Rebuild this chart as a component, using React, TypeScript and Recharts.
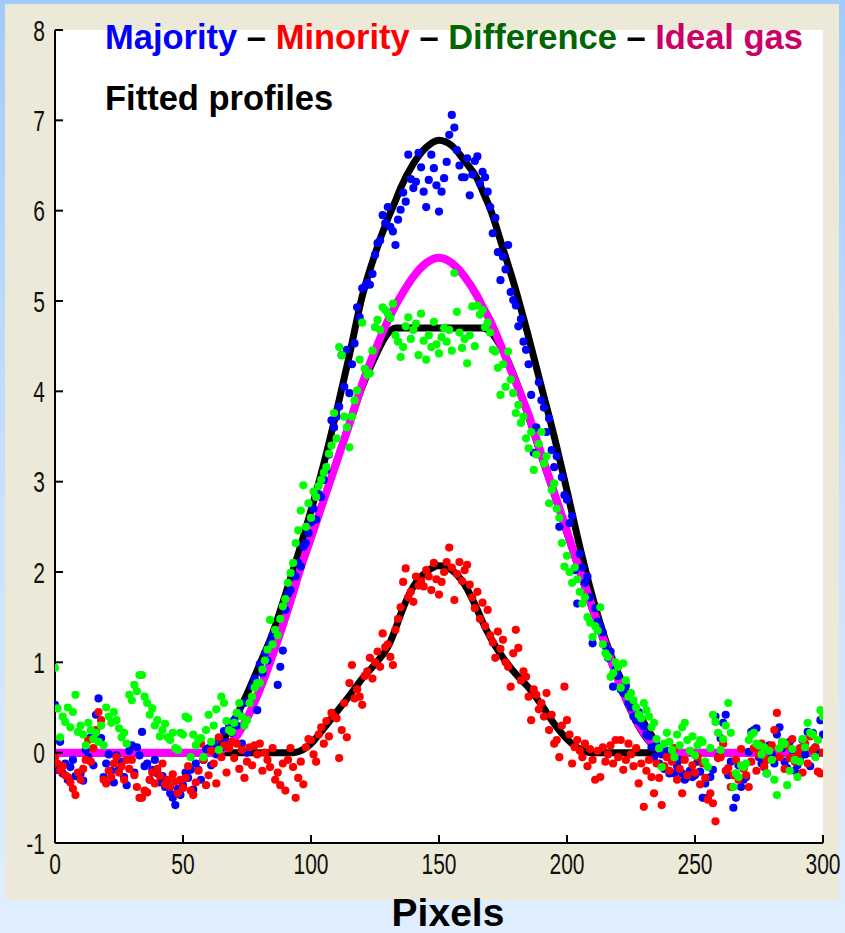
import { ComposedChart, Line, Scatter, XAxis, YAxis } from "recharts";

// One sample per pixel column, x = 0..300
const majority = [
  0.53, -0.19, 0.12, -0.23, -0.12, -0.3, -0.16, -0.08, -0.26, -0.23,
  -0.23, -0.31, 0.03, -0.05, 0.17, -0.14, 0.42, 0.6, 0.16, -0.27,
  -0.12, -0.02, -0.2, -0.33, -0.03, -0.19, -0.1, -0.27, -0.36, 0.02,
  0.08, -0.22, 0.06, -0.03, 0.23, -0.15, -0.12, -0.3, -0.19, -0.08,
  -0.23, -0.33, -0.26, -0.38, -0.31, -0.45, -0.5, -0.58, -0.4, -0.47,
  -0.36, -0.22, -0.28, -0.19, -0.41, -0.12, -0.19, -0.3, -0.08, 0.04,
  0.05, -0.14, 0.09, -0.02, 0.16, 0.06, 0.24, 0.12, 0.31, 0.22,
  0.36, 0.3, 0.45, 0.1, 0.55, 0.0, 0.58, 0.73, 0.82, 0.47,
  0.98, 0.88, 1.1, 1.02, 1.22, 1.3, 1.35, 0.75, 0.95, 1.13,
  1.58, 1.76, 1.8, 1.98, 1.95, 2.1, 2.06, 2.28, 2.32, 2.43,
  2.55, 2.7, 2.58, 2.86, 2.83, 3.02, 3.13, 3.3, 3.68, 3.6,
  3.72, 3.83, 4.4, 4.05, 4.46, 3.98, 4.3, 4.53, 4.93, 4.82,
  5.14, 5.16, 5.2, 5.18, 5.3, 5.51, 5.64, 5.67, 5.95, 5.86,
  6.04, 5.82, 5.77, 5.62, 5.9, 6.01, 6.2, 6.1, 6.62, 6.35,
  6.25, 6.32, 6.64, 6.48, 6.21, 6.04, 6.34, 6.62, 6.47, 6.28,
  5.99, 6.21, 6.36, 6.54, 6.84, 7.06, 6.92, 6.67, 6.5, 6.37,
  6.37, 6.58, 6.17, 6.4, 6.55, 6.6, 6.3, 6.43, 6.37, 6.21,
  6.04, 5.75, 5.92, 5.54, 5.23, 5.49, 5.35, 5.62, 5.1, 5.01,
  4.95, 4.72, 4.8, 4.55, 4.46, 4.3, 3.96, 3.32, 3.6, 4.1,
  3.9, 3.82, 3.55, 3.7, 3.35, 3.16, 3.28, 2.5, 3.05, 2.85,
  2.8, 2.54, 2.62, 2.02, 1.65, 2.2, 2.05, 1.88, 1.95, 1.72,
  1.21, 1.6, 1.45, 1.4, 1.33, 1.18, 1.05, 1.12, 0.73, 0.92,
  0.85, 0.7, 0.66, 0.74, 0.55, 0.5, 0.4, 0.36, 0.45, 0.32,
  0.29, 0.2, 0.18, 0.06, -0.05, 0.08, -0.12, -0.02, -0.18, 0.02,
  -0.23, -0.08, -0.23, -0.15, -0.08, -0.23, -0.3, -0.27, -0.2, -0.27,
  -0.25, -0.1, -0.21, -0.5, -0.34, -0.5, -0.27, -0.19, 0.4, -0.05,
  0.16, 0.33, 0.42, -0.25, -0.1, -0.61, -0.5, -0.14, -0.38, -0.3,
  -0.27, 0.01, 0.23, 0.25, 0.27, -0.05, -0.12, -0.16, -0.23, 0.08,
  -0.02, -0.12, 0.2, 0.28, 0.05, -0.1, -0.17, 0.12, 0.03, -0.2,
  -0.14, -0.08, 0.14, -0.02, 0.23, -0.15, 0.22, 0.06, 0.0, 0.36,
  0.2,
];

const minority = [
  -0.05, -0.12, -0.2, -0.15, -0.25, -0.27, -0.33, -0.4, -0.47, -0.22,
  -0.3, -0.18, -0.08, 0.14, -0.1, 0.05, 0.25, 0.45, 0.36, -0.3,
  -0.34, -0.2, -0.27, -0.12, -0.05, -0.22, -0.15, -0.3, -0.08, -0.18,
  -0.08, -0.25, -0.38, -0.5, -0.5, -0.42, -0.44, -0.3, -0.22, -0.34,
  -0.18, -0.26, -0.12, -0.35, -0.3, -0.38, -0.24, -0.32, -0.45, -0.3,
  -0.39, -0.28, -0.15, -0.42, -0.47, -0.33, -0.2, 0.1, -0.08, -0.36,
  -0.25, 0.02, -0.12, -0.34, 0.17, -0.05, 0.08, -0.22, 0.05, 0.12,
  -0.06, 0.1, -0.18, 0.03, -0.28, -0.1, 0.06, -0.14, 0.08, -0.02,
  0.1, -0.2, 0.0, -0.08, -0.16, 0.05, -0.3, -0.22, -0.36, -0.12,
  -0.42, -0.08, 0.05, -0.16, -0.5, -0.28, -0.1, -0.35, 0.06, 0.15,
  0.14, -0.02, -0.1, 0.2, 0.28, 0.1, 0.35, 0.18, 0.44, 0.4,
  0.38, -0.06, 0.25, 0.55, 0.17, 0.77, 0.97, 0.6, 0.7, 0.62,
  0.53, 0.85, 0.9, 1.05, 0.82, 1.0, 1.12, 0.95, 1.32, 1.17,
  1.2, 1.06, 0.97, 1.36, 1.48, 1.61, 1.89, 2.04, 1.72, 1.78,
  1.67, 1.95, 1.85, 1.9, 1.84, 2.02, 1.95, 1.8, 2.1, 1.92,
  1.75, 1.89, 2.0, 2.11, 2.27, 2.05, 1.69, 1.98, 2.11, 1.9,
  2.02, 2.08, 1.86, 1.72, 1.6, 1.78, 1.48, 1.66, 1.4, 1.58,
  1.3, 1.22, 1.05, 1.34, 1.15, 1.25, 1.0, 0.95, 0.73, 1.1,
  1.36, 1.16, 0.8, 0.9, 0.84, 0.62, 0.36, 0.7, 0.64, 0.48,
  0.55, 0.4, 0.66, 0.25, 0.42, 0.1, 0.14, -0.05, 0.3, 0.73,
  0.36, 0.2, -0.12, 0.06, 0.14, 0.02, -0.05, 0.1, -0.15, 0.04,
  -0.08, -0.3, 0.02, -0.27, 0.06, -0.1, -0.02, 0.08, -0.12, 0.14,
  -0.05, 0.14, -0.19, -0.08, 0.1, -0.02, -0.15, 0.05, -0.34, -0.12,
  -0.6, -0.2, -0.08, -0.27, -0.45, -0.12, -0.28, -0.58, -0.15, -0.05,
  -0.2, -0.1, 0.05, -0.3, -0.18, -0.45, -0.08, -0.25, 0.02, -0.14,
  -0.22, -0.05, -0.35, -0.12, -0.28, -0.52, -0.45, -0.56, -0.76, -0.06,
  -0.05, 0.1, -0.2, -0.17, -0.38, -0.25, -0.08, -0.3, 0.04, -0.18,
  -0.25, -0.38, -0.1, 0.05, -0.2, -0.02, 0.1, -0.15, -0.08, 0.02,
  0.08, 0.25, 0.44, -0.05, 0.12, -0.18, 0.08, -0.06, 0.15, -0.1,
  -0.03, 0.05, -0.22, 0.1, -0.12, 0.18, 0.03, 0.06, -0.21, -0.23,
  0.0,
];

const difference = [
  0.94, 0.49, 0.17, 0.4, 0.34, 0.5, 0.28, 0.45, 0.64, 0.23,
  0.3, 0.2, 0.08, 0.33, 0.25, 0.15, 0.22, 0.12, 0.3, 0.08,
  0.5, 0.4, 0.33, 0.45, 0.36, 0.27, 0.17, 0.22, 0.1, 0.64,
  0.58, 0.75, 0.68, 0.86, 0.86, 0.62, 0.55, 0.42, 0.49, 0.3,
  0.36, 0.18, 0.25, 0.32, 0.17, 0.14, 0.22, 0.05, 0.03, 0.22,
  0.2, 0.4, 0.38, -0.05, 0.2, 0.08, 0.14, 0.16, -0.05, 0.25,
  0.42, 0.12, 0.3, 0.48, 0.03, 0.62, 0.55, 0.35, 0.25, 0.23,
  0.33, 0.44, 0.55, 0.4, 0.3, 0.36, 0.55, 0.62, 0.72, 0.77,
  0.77, 0.92, 1.02, 1.14, 1.47, 1.2, 1.36, 1.3, 1.48, 1.62,
  1.7, 1.88, 1.99, 2.1, 2.32, 2.46, 2.68, 2.96, 2.5, 2.76,
  2.6, 2.89, 2.83, 2.95, 3.02, 3.1, 3.16, 3.31, 3.4, 3.76,
  3.48, 4.49, 4.4, 3.72, 3.6, 3.38, 3.72, 3.9, 4.01, 4.35,
  4.76, 4.25, 4.18, 4.2, 4.45, 4.71, 4.79, 4.68, 4.93, 4.9,
  4.86, 4.81, 4.97, 4.62, 4.55, 4.38, 4.49, 4.72, 4.82, 4.58,
  4.68, 4.75, 4.4, 4.86, 4.56, 4.35, 4.62, 4.49, 4.77, 4.52,
  4.42, 4.6, 4.7, 4.55, 4.68, 4.45, 5.31, 4.88, 4.65, 4.48,
  4.58, 4.31, 4.62, 4.94, 4.5, 4.95, 4.85, 4.9, 4.71, 4.76,
  4.65, 4.46, 4.44, 4.26, 3.96, 4.3, 4.05, 4.44, 4.13, 3.98,
  3.76, 3.85, 3.65, 3.72, 3.48, 3.37, 3.55, 3.13, 3.3, 3.42,
  3.55, 3.2, 3.28, 2.76, 2.91, 2.98, 2.7, 2.6, 2.32, 2.06,
  2.18, 2.0, 1.88, 2.05, 1.92, 1.78, 1.65, 1.72, 1.5, 1.44,
  1.28, 1.4, 1.35, 1.61, 1.2, 1.1, 1.06, 0.84, 0.88, 1.0,
  0.95, 0.72, 0.99, 0.8, 0.62, 0.66, 0.58, 0.5, 0.42, 0.38,
  0.55, 0.47, 0.4, 0.28, 0.33, 0.15, 0.05, -0.16, 0.1, 0.22,
  0.12, 0.03, -0.05, 0.2, 0.08, 0.28, 0.33, 0.14, 0.02, 0.18,
  -0.03, 0.08, 0.14, 0.12, -0.1, -0.16, 0.05, 0.42, 0.34, 0.22,
  0.03, 0.15, 0.3, 0.55, 0.22, -0.38, -0.23, -0.27, -0.14, -0.16,
  -0.12, 0.14, 0.2, 0.22, 0.1, 0.08, -0.02, 0.06, -0.23, 0.02,
  -0.08, -0.3, -0.47, 0.05, 0.12, 0.1, -0.36, -0.2, 0.04, -0.08,
  -0.27, -0.1, 0.15, 0.06, 0.33, 0.22, 0.2, -0.05, 0.14, 0.47,
  0.4,
];

// Fitted profiles, sampled at these pixel positions
const fitX = [
  0, 30, 60, 63, 65, 70, 75, 80, 85, 90,
  93, 95, 100, 105, 110, 115, 120, 125, 130, 133,
  135, 140, 145, 150, 155, 160, 165, 167, 170, 175,
  180, 185, 190, 195, 200, 205, 210, 215, 220, 225,
  230, 235, 237, 240, 270, 300,
];
const majorityFit = [
  0, 0, 0, 0, 0.1, 0.36, 0.65, 0.98, 1.32, 1.75,
  2.02, 2.2, 2.68, 3.2, 3.78, 4.4, 5.05, 5.52, 5.91, 6.11,
  6.25, 6.52, 6.7, 6.78, 6.72, 6.55, 6.35, 6.22, 6.02, 5.58,
  5.12, 4.6, 4.05, 3.5, 2.9, 2.28, 1.72, 1.25, 0.88, 0.58,
  0.33, 0.1, 0, 0, 0, 0,
];
const minorityFit = [
  0, 0, 0, 0, 0, 0, 0, 0, 0, 0,
  0, 0.01, 0.1, 0.27, 0.45, 0.63, 0.82, 0.98, 1.17, 1.37,
  1.53, 1.84, 2.0, 2.07, 2.02, 1.86, 1.58, 1.45, 1.28, 1.05,
  0.87, 0.72, 0.53, 0.32, 0.15, 0.04, 0, 0, 0, 0,
  0, 0, 0, 0, 0, 0,
];
const differenceFit = [
  0, 0, 0, 0.01, 0.03, 0.15, 0.38, 0.7, 1.08, 1.5,
  1.77, 1.96, 2.38, 2.8, 3.22, 3.64, 4.05, 4.38, 4.64, 4.7,
  4.7, 4.7, 4.7, 4.7, 4.7, 4.7, 4.7, 4.7, 4.66, 4.45,
  4.12, 3.72, 3.28, 2.86, 2.43, 2.0, 1.58, 1.18, 0.8, 0.46,
  0.2, 0.05, 0.02, 0, 0, 0,
];
const idealGas = [
  0, 0, 0, 0.01, 0.03, 0.15, 0.38, 0.7, 1.08, 1.5,
  1.77, 1.96, 2.38, 2.8, 3.22, 3.64, 4.08, 4.45, 4.78, 4.95,
  5.05, 5.27, 5.42, 5.48, 5.42, 5.27, 5.05, 4.94, 4.78, 4.45,
  4.1, 3.74, 3.3, 2.88, 2.45, 2.02, 1.6, 1.2, 0.81, 0.48,
  0.22, 0.06, 0.02, 0, 0, 0,
];

const xTicks = [0, 50, 100, 150, 200, 250, 300];
const yTicks = [-1, 0, 1, 2, 3, 4, 5, 6, 7, 8];

const FONT = '"Liberation Sans", Arial, sans-serif';

const toPoints = (values: number[]) => values.map((y, x) => ({ x, y }));
const toCurve = (values: number[]) => fitX.map((x, i) => ({ x, y: values[i] }));

// MATLAB-style inward ticks with tall, narrow digits
function YTick({ x, y, payload }: any) {
  return (
    <g>
      <line x1={x} y1={y} x2={x + 8} y2={y} stroke="#000" strokeWidth={2} />
      <text
        transform={`translate(${x - 10},${y + 10.5}) scale(1,1.4)`}
        textAnchor="end"
        fontFamily={FONT}
        fontSize={21}
        fill="#111"
      >
        {payload.value}
      </text>
    </g>
  );
}

function XTick({ x, y, payload }: any) {
  return (
    <g>
      <line x1={x} y1={y} x2={x} y2={y - 8} stroke="#000" strokeWidth={2} />
      <text
        transform={`translate(${x},${y + 31}) scale(1,1.4)`}
        textAnchor="middle"
        fontFamily={FONT}
        fontSize={21}
        fill="#111"
      >
        {payload.value}
      </text>
    </g>
  );
}

const dot = (color: string) => (props: any) =>
  <circle cx={props.cx} cy={props.cy} r={4.1} fill={color} />;

const titleStyle = {
  position: "absolute" as const,
  left: 105,
  fontFamily: FONT,
  fontWeight: "bold" as const,
  fontSize: 34.5,
  lineHeight: "34px",
  whiteSpace: "nowrap" as const,
  color: "#000",
};

export default function App() {
  return (
    <div
      style={{
        position: "absolute",
        left: 0,
        top: 0,
        width: 845,
        height: 933,
        overflow: "hidden",
        background: "linear-gradient(180deg, #a2cbfb 0%, #c6e0fd 50%, #e0efff 100%)",
      }}
    >
      <div style={{ position: "absolute", left: 5, top: 4, width: 834, height: 896, background: "#ece9d8" }} />
      <div style={{ position: "absolute", left: 55, top: 30, width: 768, height: 813, background: "#fff" }} />
      <div style={{ position: "absolute", left: 0, top: 0 }}>
        <ComposedChart width={845} height={933} margin={{ top: 30, right: 22, bottom: 0, left: 0 }}>
          <XAxis
            type="number"
            dataKey="x"
            domain={[0, 300]}
            ticks={xTicks}
            height={90}
            tickSize={0}
            tickMargin={0}
            tickLine={false}
            tick={<XTick />}
            axisLine={{ stroke: "#000", strokeWidth: 2 }}
            allowDataOverflow
          />
          <YAxis
            type="number"
            dataKey="y"
            domain={[-1, 8]}
            ticks={yTicks}
            width={55}
            tickSize={0}
            tickMargin={0}
            tickLine={false}
            tick={<YTick />}
            axisLine={{ stroke: "#000", strokeWidth: 2 }}
            allowDataOverflow
          />
          <Line data={toCurve(majorityFit)} dataKey="y" type="monotone" stroke="#000" strokeWidth={7} dot={false} isAnimationActive={false} />
          <Line data={toCurve(minorityFit)} dataKey="y" type="monotone" stroke="#000" strokeWidth={7} dot={false} isAnimationActive={false} />
          <Line data={toCurve(differenceFit)} dataKey="y" type="monotone" stroke="#000" strokeWidth={7} dot={false} isAnimationActive={false} />
          <Line data={toCurve(idealGas)} dataKey="y" type="monotone" stroke="#ff00ff" strokeWidth={8} dot={false} isAnimationActive={false} />
          <Scatter data={toPoints(majority)} shape={dot("#0000ff")} isAnimationActive={false} />
          <Scatter data={toPoints(minority)} shape={dot("#ff0000")} isAnimationActive={false} />
          <Scatter data={toPoints(difference)} shape={dot("#00ff00")} isAnimationActive={false} />
        </ComposedChart>
      </div>
      <div style={{ ...titleStyle, top: 20 }}>
        <span style={{ color: "#0000ff" }}>Majority</span> – <span style={{ color: "#ff0000" }}>Minority</span> –{" "}
        <span style={{ color: "#006600" }}>Difference</span> – <span style={{ color: "#cc0066" }}>Ideal gas</span>
      </div>
      <div style={{ ...titleStyle, top: 81 }}>Fitted profiles</div>
      <div
        style={{
          position: "absolute",
          left: 348,
          top: 894,
          width: 200,
          textAlign: "center",
          fontFamily: FONT,
          fontWeight: "bold",
          fontSize: 39,
          lineHeight: "38px",
          color: "#000",
        }}
      >
        Pixels
      </div>
    </div>
  );
}
